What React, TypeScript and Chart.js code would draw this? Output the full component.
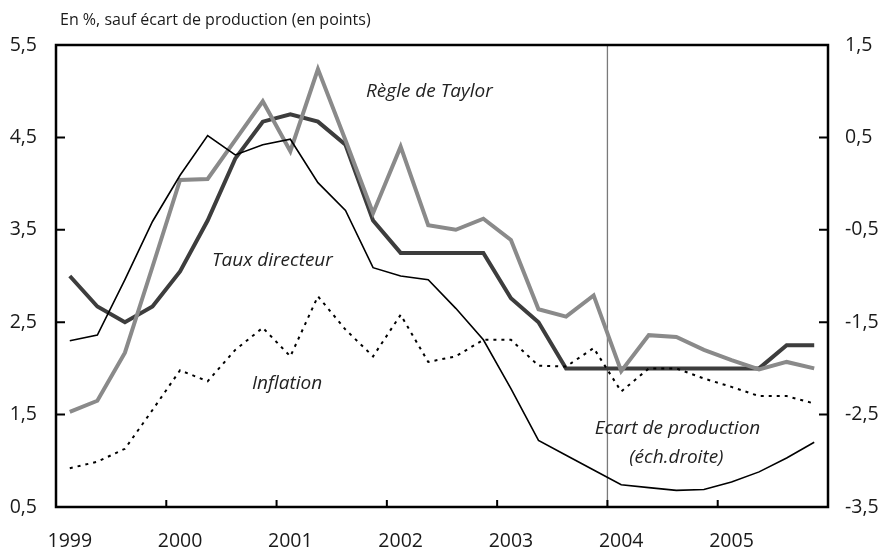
import React, { useEffect, useRef } from "react";
import { Chart, registerables } from "chart.js";

Chart.register(...registerables);

const quarters = [
  "1999T1", "1999T2", "1999T3", "1999T4",
  "2000T1", "2000T2", "2000T3", "2000T4",
  "2001T1", "2001T2", "2001T3", "2001T4",
  "2002T1", "2002T2", "2002T3", "2002T4",
  "2003T1", "2003T2", "2003T3", "2003T4",
  "2004T1", "2004T2", "2004T3", "2004T4",
  "2005T1", "2005T2", "2005T3", "2005T4",
];
const years = ["1999", "2000", "2001", "2002", "2003", "2004", "2005"];

const tauxDirecteur = [3.0, 2.67, 2.5, 2.67, 3.05, 3.6, 4.27, 4.67, 4.75, 4.67, 4.42, 3.6, 3.25, 3.25, 3.25, 3.25, 2.76, 2.5, 2.0, 2.0, 2.0, 2.0, 2.0, 2.0, 2.0, 2.0, 2.25, 2.25];
const regleTaylor = [1.53, 1.65, 2.17, 3.1, 4.04, 4.05, 4.47, 4.89, 4.35, 5.24, 4.47, 3.68, 4.4, 3.55, 3.5, 3.62, 3.39, 2.64, 2.56, 2.79, 1.97, 2.36, 2.34, 2.2, 2.09, 1.99, 2.07, 2.0];
const inflation = [0.92, 0.99, 1.13, 1.55, 1.98, 1.86, 2.2, 2.44, 2.13, 2.78, 2.42, 2.13, 2.58, 2.07, 2.13, 2.31, 2.31, 2.03, 2.02, 2.22, 1.75, 2.0, 2.0, 1.89, 1.8, 1.7, 1.7, 1.62];
const ecartProduction = [-1.7, -1.64, -1.04, -0.41, 0.09, 0.52, 0.31, 0.42, 0.48, 0.01, -0.29, -0.91, -1.0, -1.04, -1.35, -1.69, -2.22, -2.78, -2.94, -3.1, -3.26, -3.29, -3.32, -3.31, -3.23, -3.12, -2.97, -2.8];

const leftTicks = [0.5, 1.5, 2.5, 3.5, 4.5, 5.5];
const rightTicks = [-3.5, -2.5, -1.5, -0.5, 0.5, 1.5];

const titleText = "En %, sauf écart de production (en points)";
const annotations = [
  { text: "Règle de Taylor", at: 13.04, value: 4.995 },
  { text: "Taux directeur", at: 7.35, value: 3.17 },
  { text: "Inflation", at: 7.88, value: 1.84 },
  { text: "Ecart de production", at: 22.04, value: 1.35 },
  { text: "(éch.droite)", at: 22.0, value: 1.04 },
];
const markerQuarter = "2004T1";

const FONT = "'Open Sans', Lato, sans-serif";
const fmt = (v: number) => String(v).replace(".", ",");

const framePlugin = {
  id: "frame",
  beforeDatasetsDraw(chart: any) {
    const { ctx, chartArea: a, scales } = chart;
    const xv = scales.x.getPixelForValue(quarters.indexOf(markerQuarter) - 0.5);
    ctx.save();
    ctx.strokeStyle = "#7a7a7a";
    ctx.lineWidth = 1.3;
    ctx.beginPath();
    ctx.moveTo(xv, a.top);
    ctx.lineTo(xv, a.bottom);
    ctx.stroke();
    ctx.restore();
  },
  afterDraw(chart: any) {
    const { ctx, chartArea: a, scales } = chart;
    ctx.save();
    ctx.strokeStyle = "#000";
    ctx.lineWidth = 2.5;
    ctx.strokeRect(a.left, a.top, a.right - a.left, a.bottom - a.top);
    ctx.lineWidth = 2;
    ctx.beginPath();
    for (const v of leftTicks) {
      const y = scales.y.getPixelForValue(v);
      ctx.moveTo(a.left, y);
      ctx.lineTo(a.left + 9, y);
    }
    for (const v of rightTicks) {
      const y = scales.y1.getPixelForValue(v);
      ctx.moveTo(a.right - 9, y);
      ctx.lineTo(a.right, y);
    }
    for (const yr of years.slice(1)) {
      const x = scales.x.getPixelForValue(quarters.indexOf(yr + "T1") - 0.5);
      ctx.moveTo(x, a.bottom);
      ctx.lineTo(x, a.bottom - 7);
    }
    ctx.stroke();

    ctx.fillStyle = "#1a1a1a";
    ctx.font = `16px ${FONT}`;
    ctx.textAlign = "left";
    ctx.textBaseline = "alphabetic";
    ctx.fillText(titleText, 60, 25);

    ctx.font = `italic 19px ${FONT}`;
    ctx.textAlign = "center";
    ctx.textBaseline = "middle";
    ctx.fillStyle = "#222";
    for (const an of annotations) {
      ctx.fillText(an.text, scales.x.getPixelForValue(an.at), scales.y.getPixelForValue(an.value));
    }
    ctx.restore();
  },
};

export default function App() {
  const ref = useRef<HTMLCanvasElement>(null);
  useEffect(() => {
    const chart = new Chart(ref.current as HTMLCanvasElement, {
      type: "line",
      data: {
        labels: quarters,
        datasets: [
          { label: "Ecart de production", data: ecartProduction, yAxisID: "y1", borderColor: "#000", borderWidth: 1.6, pointRadius: 0, tension: 0 },
          { label: "Inflation", data: inflation, yAxisID: "y", borderColor: "#000", borderWidth: 2, borderDash: [3, 5], pointRadius: 0, tension: 0 },
          { label: "Règle de Taylor", data: regleTaylor, yAxisID: "y", borderColor: "#8a8a8a", borderWidth: 4, pointRadius: 0, tension: 0 },
          { label: "Taux directeur", data: tauxDirecteur, yAxisID: "y", borderColor: "#3d3d3d", borderWidth: 4, pointRadius: 0, tension: 0 },
        ],
      },
      options: {
        responsive: false,
        animation: false,
        layout: { padding: { top: 45, left: 0, right: 0, bottom: 0 } },
        plugins: { legend: { display: false }, tooltip: { enabled: false }, title: { display: false } },
        scales: {
          x: {
            type: "category",
            offset: true,
            grid: { display: false, offset: true, drawTicks: false },
            border: { display: false },
            ticks: {
              autoSkip: false,
              maxRotation: 0,
              minRotation: 0,
              padding: 23,
              color: "#1a1a1a",
              font: { family: FONT, size: 19.5 },
              callback: (_v: any, i: number) => (i % 4 === 0 ? quarters[i].slice(0, 4) : ""),
            },
            afterFit: (s: any) => { s.height = 47; },
          },
          y: {
            position: "left",
            min: 0.5,
            max: 5.5,
            grid: { display: false, drawTicks: false },
            border: { display: false },
            afterBuildTicks: (s: any) => { s.ticks = leftTicks.map((v) => ({ value: v })); },
            ticks: { padding: 19, color: "#1a1a1a", font: { family: FONT, size: 19.5 }, callback: (v: any) => fmt(v) },
            afterFit: (s: any) => { s.width = 56; },
          },
          y1: {
            position: "right",
            min: -3.5,
            max: 1.5,
            grid: { display: false, drawTicks: false },
            border: { display: false },
            afterBuildTicks: (s: any) => { s.ticks = rightTicks.map((v) => ({ value: v })); },
            ticks: { padding: 17, color: "#1a1a1a", font: { family: FONT, size: 19.5 }, callback: (v: any) => fmt(v) },
            afterFit: (s: any) => { s.width = 55; },
          },
        },
      },
      plugins: [framePlugin],
    });
    return () => chart.destroy();
  }, []);
  return (
    <div style={{ position: "fixed", left: 0, top: 0, width: 883, height: 554, background: "#fff" }}>
      <canvas ref={ref} width={883} height={554} />
    </div>
  );
}
